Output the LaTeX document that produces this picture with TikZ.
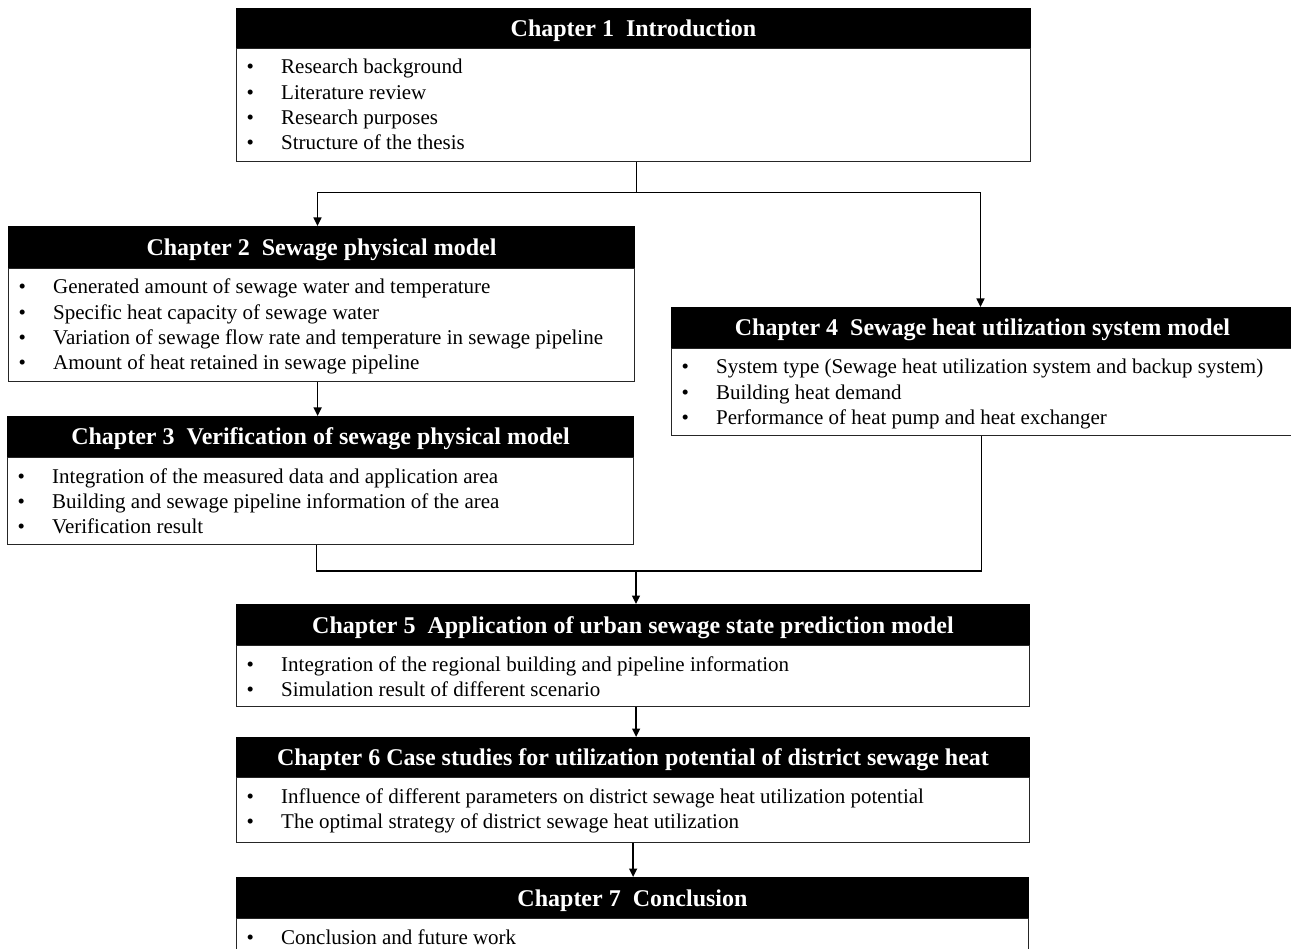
\documentclass[tikz,border=0pt]{standalone}
\usepackage{fontspec}
\setmainfont{Liberation Serif}
\usetikzlibrary{arrows.meta}

\tikzset{
  hdr/.style={fill=black, draw=black, line width=1pt, text=white,
    font=\fontsize{24}{28}\selectfont\bfseries, anchor=north west,
    inner sep=0pt, text height=18.5pt, text depth=2.5pt},
  bodybox/.style={draw=black!85, line width=1.3pt, anchor=north west, inner sep=0pt},
  item/.style={anchor=base west, inner sep=0pt, font=\fontsize{21}{25}\selectfont},
  link/.style={draw=black, line width=1.5pt},
  arr/.style={link, -{Triangle[length=8.5pt,width=8pt]}},
}

% chapter box: name, left, top, width, header height, body height, title, items
\newcommand\chapblock[8]{%
  \node[hdr, minimum width=#4, minimum height=#5] (h#1) at (#2,#3) {#7};
  \node[bodybox, minimum width=#4, minimum height=#6] (b#1) at (#2,#3+#5) {};
  \foreach \t [count=\i] in {#8} {
    \node[item] (b#1-\i) at (#2+10.5,#3+#5+26+25.3*\i-25.3)
      {\makebox[34.5pt][l]{\textbullet}\t};
  }%
}

\begin{document}
\begin{tikzpicture}[x=1pt,y=-1pt]
\useasboundingbox (0,0) rectangle (1291,949);

\chapblock{1}{236}{8}{794}{40}{113}{Chapter 1\ \ Introduction}
  {Research background, Literature review, Research purposes, Structure of the thesis}

\chapblock{2}{8}{226}{626}{42}{113}{Chapter 2\ \ Sewage physical model}
  {Generated amount of sewage water and temperature,
   Specific heat capacity of sewage water,
   Variation of sewage flow rate and temperature in sewage pipeline,
   Amount of heat retained in sewage pipeline}

\chapblock{3}{7}{416}{626}{41}{87}{Chapter 3\ \ Verification of sewage physical model}
  {Integration of the measured data and application area,
   Building and sewage pipeline information of the area,
   Verification result}

\chapblock{4}{671}{307}{622}{41}{87}{Chapter 4\ \ Sewage heat utilization system model}
  {System type (Sewage heat utilization system and backup system),
   Building heat demand,
   Performance of heat pump and heat exchanger}

\chapblock{5}{236}{604}{793}{41}{61}{Chapter 5\ \ Application of urban sewage state prediction model}
  {Integration of the regional building and pipeline information,
   Simulation result of different scenario}

\chapblock{6}{236}{737}{793}{40}{65}{Chapter 6 Case studies for utilization potential of district sewage heat}
  {Influence of different parameters on district sewage heat utilization potential,
   The optimal strategy of district sewage heat utilization}

\chapblock{7}{236}{877}{792}{41}{45}{Chapter 7\ \ Conclusion}
  {Conclusion and future work}

% connectors
\draw[arr] ([xshift=3pt]b1.south) -- ++(0,30) -| ([xshift=-4pt]h2.north);
\draw[arr] ([xshift=3pt]b1.south) -- ++(0,30) -| ([xshift=-2pt]h4.north);
\draw[arr] ([xshift=-4pt]b2.south) -- ([xshift=-4pt]b2.south |- h3.north);
\coordinate (m) at (636,571);
\draw[link] ([xshift=-4pt]b3.south) |- (m);
\draw[link] ([xshift=-1pt]b4.south) |- (m);
\draw[arr] (m) -- (m |- h5.north);
\draw[arr] ([xshift=3pt]b5.south) -- ([xshift=3pt]b5.south |- h6.north);
\draw[arr] (b6.south) -- (b6.south |- h7.north);
\end{tikzpicture}
\end{document}
